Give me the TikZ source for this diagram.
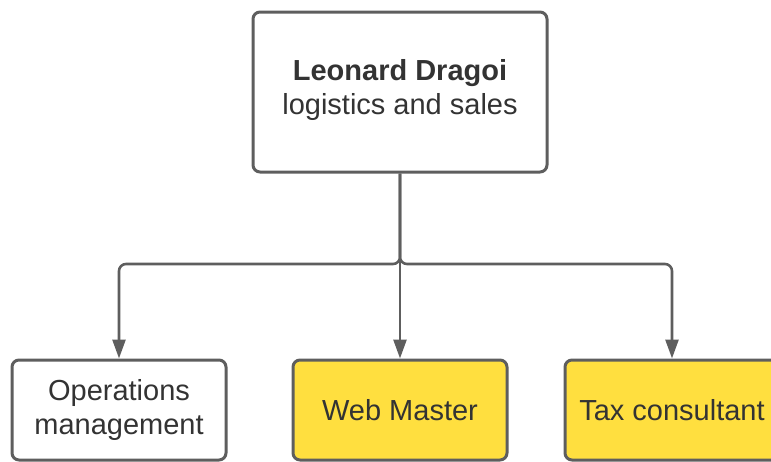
\documentclass[tikz,border=0pt]{standalone}
\usepackage{fontspec}
\setmainfont{Liberation Sans}
\usetikzlibrary{arrows.meta}

\definecolor{edgegray}{HTML}{5E5E5E}
\definecolor{inkgray}{HTML}{333333}
\definecolor{noteyellow}{HTML}{FFDF3F}

\tikzset{
  box/.style={rectangle,rounded corners=7pt,draw=edgegray,line width=3pt,
    fill=white,text=inkgray,align=center,
    font=\fontsize{29}{34}\selectfont},
  yellowbox/.style={box,fill=noteyellow},
  link/.style={draw=edgegray,line width=2.6pt,rounded corners=7pt,
    -{Triangle[width=13pt,length=19pt]}}
}

\begin{document}
\begin{tikzpicture}[x=1pt,y=-1pt]
  \useasboundingbox (0,0) rectangle (771,461);
  \clip (0,0) rectangle (771,461);

  \node[box,minimum width=294pt,minimum height=160pt] (lead) at (400,92)
    {\textbf{Leonard Dragoi}\\logistics and sales\\[-24pt]};
  \node[box,minimum width=214pt,minimum height=100pt] (ops) at (119,410)
    {Operations\\management};
  \node[yellowbox,minimum width=214pt,minimum height=100pt] (web) at (400,410)
    {Web Master};
  \node[yellowbox,minimum width=214pt,minimum height=100pt] (tax) at (672,410)
    {Tax consultant};

  \coordinate (hub) at (400,264);

  \draw[link] (lead.south) -- (hub) -| (ops.north);
  \draw[link] (lead.south) -- (web.north);
  \draw[link] (lead.south) -- (hub) -| (tax.north);
\end{tikzpicture}
\end{document}
